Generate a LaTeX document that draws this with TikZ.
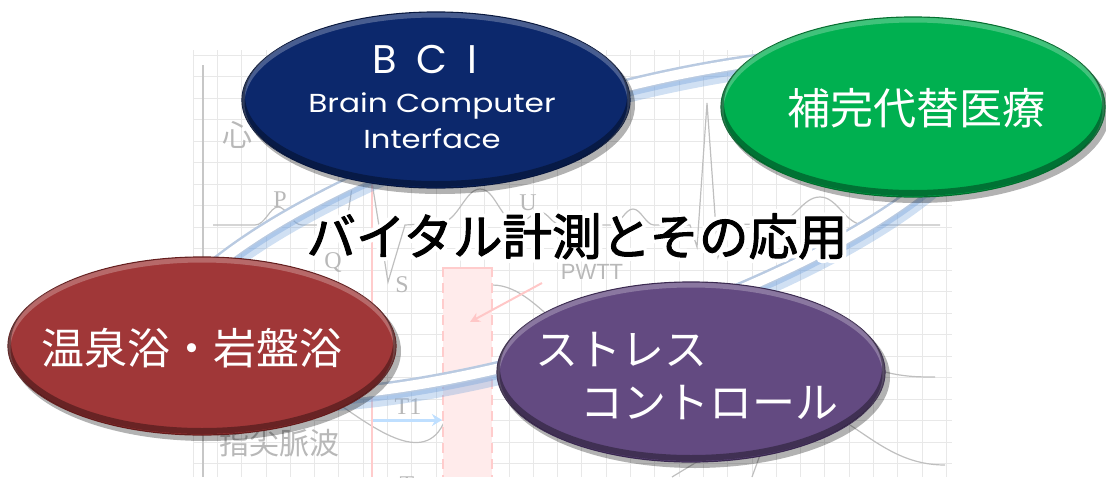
\documentclass[tikz,border=0pt]{standalone}
\usepackage{fontspec}
\setmainfont{Noto Sans CJK JP}
\newfontfamily\latinsans{Poppins}
\newfontfamily\seriff{Liberation Serif}
\newfontfamily\plainsans{Liberation Sans}
\usetikzlibrary{arrows.meta,shapes.geometric}
\definecolor{navyc}{RGB}{12,40,108}
\definecolor{navyd}{RGB}{6,22,62}
\definecolor{greenc}{RGB}{0,176,80}
\definecolor{greend}{RGB}{0,110,45}
\definecolor{redc}{RGB}{160,55,56}
\definecolor{redd}{RGB}{100,28,28}
\definecolor{purc}{RGB}{99,74,129}
\definecolor{purd}{RGB}{58,40,80}
\definecolor{ringblue}{RGB}{120,165,220}
\definecolor{ringedge}{RGB}{185,202,225}
\newcommand\strokeon[1]{\special{pdf:literal direct 2 Tr #1 w 1 1 1 RG 1 j 1 J}}
\newcommand\strokeoff{\special{pdf:literal direct 0 Tr 1 w 0 j 0 J}}
\begin{document}
\begin{tikzpicture}[x=1pt,y=-1pt,
  blob/.style={ellipse, inner sep=0pt, line width=1.2pt},
  wtext/.style={text=white, inner sep=0pt, font=\fontsize{43}{50}\selectfont},
  bglabel/.style={text=black!28, inner sep=0pt},
  bgline/.style={black!25, line width=1.2pt},
  gridline/.style={black!9, line width=0.7pt},
  ctext/.style={inner sep=0pt, anchor=base, font=\fontsize{49.5}{55}\selectfont},
]
\useasboundingbox (0,0) rectangle (1106,477);
% ---------- faded background chart ----------
\begin{scope}
\clip (193,50) rectangle (952,477);
\foreach \i in {0,...,31} \draw[gridline] ({193+24.3*\i},50) -- ({193+24.3*\i},477);
\foreach \j in {0,...,20} \draw[gridline] (193,{55+21.5*\j}) -- (952,{55+21.5*\j});
\coordinate (axt) at (203,65);
\coordinate (axb) at (203,477);
\draw[black!22, line width=2pt] (axt) -- (axb);
% ECG
\draw[bgline] (213,225) -- (255,225) .. controls (265,225) and (270,207) .. (278,207)
  .. controls (287,207) and (292,225) .. (302,225) -- (333,225) -- (343,248) -- (362,120)
  -- (388,282) -- (405,225) -- (440,223) .. controls (458,222) and (465,189) .. (480,189)
  .. controls (496,189) and (500,222) .. (518,222) .. controls (528,222) and (532,212) .. (540,212)
  .. controls (548,212) and (552,225) .. (562,225) -- (612,225) .. controls (620,225) and (625,209) .. (633,209)
  .. controls (641,209) and (646,225) .. (654,225) -- (690,225) -- (697,247) -- (707,103)
  -- (718,257) -- (730,225) -- (775,223) .. controls (795,222) and (802,197) .. (820,197)
  .. controls (838,197) and (845,225) .. (865,225) -- (940,225);
% pulse wave
\draw[bgline] (330,398) .. controls (370,425) and (425,470) .. (445,420)
  .. controls (458,340) and (468,285) .. (492,285) .. controls (520,285) and (540,310) .. (565,330);
\draw[bgline] (885,372) .. controls (905,377) and (920,377) .. (935,377);
\draw[bgline] (850,425) .. controls (880,445) and (905,465) .. (945,465);
\draw[bgline] (700,460) -- (672,477);
\draw[bgline] (760,455) -- (752,477);
% markers
\draw[red!20, line width=1.5pt] (372,183) -- (372,477);
\fill[red!8] (443,267) rectangle (492,477);
\draw[red!20, line width=2pt, dash pattern=on 10pt off 6pt] (443,267) -- (443,477);
\draw[red!20, line width=2pt, dash pattern=on 10pt off 6pt] (492,267) -- (492,477);
\draw[red!20, line width=2pt] (443,268) -- (492,268);
\coordinate (pa1) at (542,283);
\coordinate (pa2) at (470,322);
\draw[red!22, line width=2pt, -{Stealth[length=10pt,width=10pt]}] (pa1) -- (pa2);
\coordinate (ba1) at (373,420);
\coordinate (ba2) at (442,420);
\draw[blue!50!cyan!25, line width=3pt, -{Stealth[length=10pt,width=12pt]}] (ba1) -- (ba2);
\node[bglabel, font=\fontsize{30}{30}\selectfont] (lk) at (237,135) {心};
\node[bglabel, font=\seriff\fontsize{24}{24}\selectfont] (lp) at (280,200) {P};
\node[bglabel, font=\seriff\fontsize{24}{24}\selectfont] (lq) at (333,262) {Q};
\node[bglabel, font=\seriff\fontsize{24}{24}\selectfont] (ls) at (402,285) {S};
\node[bglabel, font=\seriff\fontsize{24}{24}\selectfont] (lu) at (528,203) {U};
\node[bglabel, font=\plainsans\fontsize{22}{22}\selectfont] (lw) at (592,272) {PWTT};
\node[bglabel, font=\seriff\fontsize{24}{24}\selectfont] (lt1) at (408,407) {T1};
\node[bglabel, font=\fontsize{30}{30}\selectfont] (lpw) at (279,443) {指尖脈波};
\node[bglabel, font=\seriff\fontsize{24}{24}\selectfont] (lt) at (407,485) {T};
\end{scope}
% ---------- ring ----------
\begin{scope}[rotate around={17.4:(570,225)}]
\draw[ringblue, opacity=.35, line width=22pt] (570,231) ellipse [x radius=428, y radius=119];
\draw[ringblue, opacity=.4, line width=16pt] (570,228) ellipse [x radius=428, y radius=119];
\draw[ringedge, line width=14pt] (570,225) ellipse [x radius=428, y radius=119];
\draw[white, line width=10pt] (570,225.5) ellipse [x radius=428, y radius=119];
\end{scope}
% ---------- ellipses ----------
% BCI
\fill[black, opacity=.3] (440,105) ellipse [x radius=195, y radius=89];
\node[blob, fill=navyc, draw=navyd, minimum width=388pt, minimum height=176pt] (bci) at (436,100) {};
\begin{scope}\clip (436,100) ellipse [x radius=194, y radius=88];
\draw[white, opacity=.25, line width=5pt] (436,103) ellipse [x radius=194, y radius=88];
\draw[black, opacity=.35, line width=6pt] (436,96) ellipse [x radius=194, y radius=88];
\end{scope}
% green
\fill[black, opacity=.3] (917,112) ellipse [x radius=193, y radius=91];
\node[blob, fill=greenc, draw=greend, minimum width=384pt, minimum height=180pt] (cam) at (913,107) {};
\begin{scope}\clip (913,107) ellipse [x radius=192, y radius=90];
\draw[white, opacity=.25, line width=5pt] (913,110) ellipse [x radius=192, y radius=90];
\draw[black, opacity=.35, line width=6pt] (913,103) ellipse [x radius=192, y radius=90];
\end{scope}
% red
\fill[black, opacity=.3] (206,351) ellipse [x radius=195, y radius=90];
\node[blob, fill=redc, draw=redd, minimum width=388pt, minimum height=178pt] (onsen) at (202,346) {};
\begin{scope}\clip (202,346) ellipse [x radius=194, y radius=89];
\draw[white, opacity=.25, line width=5pt] (202,349) ellipse [x radius=194, y radius=89];
\draw[black, opacity=.35, line width=6pt] (202,342) ellipse [x radius=194, y radius=89];
\end{scope}
% purple
\fill[black, opacity=.3] (695,377) ellipse [x radius=195, y radius=91];
\node[blob, fill=purc, draw=purd, minimum width=388pt, minimum height=180pt] (stress) at (691,372) {};
\begin{scope}\clip (691,372) ellipse [x radius=194, y radius=90];
\draw[white, opacity=.25, line width=5pt] (691,375) ellipse [x radius=194, y radius=90];
\draw[black, opacity=.35, line width=6pt] (691,368) ellipse [x radius=194, y radius=90];
\end{scope}
% ---------- texts ----------
\node[wtext, anchor=base, font=\latinsans\fontsize{40}{40}\selectfont] (bciA) at (425,73) {B\hspace{0.5em}C\hspace{0.5em}I};
\node[wtext, anchor=base, font=\latinsans\fontsize{26}{26}\selectfont] (bciB) at (432,112) {\scalebox{1.2}[1]{Brain Computer}};
\node[wtext, anchor=base, font=\latinsans\fontsize{26}{26}\selectfont] (bciC) at (432,148) {\scalebox{1.18}[1]{Interface}};
\node[wtext, anchor=base] (camT) at (916,124) {補完代替医療};
\node[wtext, anchor=base] (onsenT) at (192,364) {温泉浴・岩盤浴};
\node[wtext, anchor=base west] (stA) at (535,365) {ストレス};
\node[wtext, anchor=base west] (stB) at (580,418) {コントロール};
% center title with glow (stroked white copy)
\node[ctext, text=white] (glow) at (577,255) {\strokeon{9}バイタル計測とその応用\strokeoff};
\node[ctext, text=black] (title) at (577,255) {\strokeon{1}\special{pdf:literal direct 0 0 0 RG}バイタル計測とその応用\strokeoff};
\end{tikzpicture}
\end{document}
